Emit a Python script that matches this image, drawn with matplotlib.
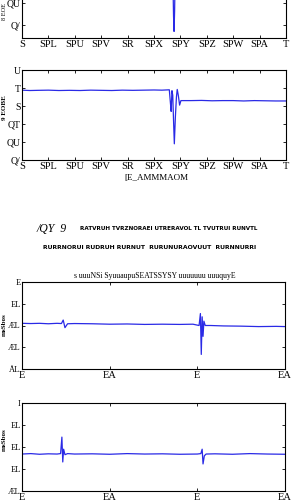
import numpy as np
import matplotlib.pyplot as plt

# top panel (only its lower part is visible on the page)
x1 = [0.0, 0.1, 0.2, 0.3, 0.4, 0.5, 0.56, 0.570, 0.572, 0.574, 0.576, 0.578, 0.580, 0.583, 0.6, 0.7, 0.8, 0.9, 1.0]
y1 = [0.0, 0.0, 0.0, 0.0, 0.0, 0.0, 0.0, 0.0, -1.2, -2.6, -3.3, -2.4, -0.8, 0.0, 0.0, 0.0, 0.0, 0.0, 0.0]

# second panel
x2 = [0.0, 0.03, 0.06, 0.1, 0.14, 0.18, 0.22, 0.26, 0.3, 0.34, 0.38, 0.42, 0.46, 0.5, 0.53, 0.558,
      0.562, 0.565, 0.568, 0.571, 0.574, 0.577, 0.581, 0.585, 0.588, 0.592, 0.597, 0.602,
      0.64, 0.68, 0.72, 0.76, 0.8, 0.84, 0.88, 0.92, 0.96, 1.0]
y2 = [0.88, 0.86, 0.87, 0.88, 0.86, 0.87, 0.86, 0.88, 0.87, 0.86, 0.88, 0.87, 0.88, 0.89, 0.88, 0.9,
      0.2, -0.3, 0.85, 0.6, -0.8, -2.1, -0.6, 0.5, 0.92, 0.6, 0.05, 0.3,
      0.3, 0.31, 0.29, 0.3, 0.3, 0.28, 0.3, 0.29, 0.28, 0.28]

# third panel
x3 = [0.0, 0.1, 0.2, 0.3, 0.4, 0.45, 0.47, 0.49, 0.52, 0.6, 0.8, 1.0, 1.2, 1.4, 1.6, 1.8, 1.95, 2.02,
      2.035, 2.045, 2.055, 2.065, 2.075, 2.09, 2.15, 2.3, 2.5, 2.7, 2.9, 3.0]
y3 = [0.1, 0.09, 0.1, 0.08, 0.1, 0.09, 0.25, -0.1, 0.08, 0.09, 0.08, 0.06, 0.07, 0.05, 0.06, 0.05, 0.06, 0.0,
      0.55, -1.33, 0.4, -0.5, 0.2, 0.0, 0.0, -0.02, -0.03, -0.05, -0.04, -0.05]

# fourth panel
x4 = [0.0, 0.1, 0.2, 0.3, 0.4, 0.44, 0.455, 0.465, 0.475, 0.49, 0.52, 0.6, 0.8, 1.0, 1.2, 1.4, 1.6,
      1.8, 2.0, 2.04, 2.055, 2.065, 2.08, 2.1, 2.2, 2.4, 2.6, 2.8, 3.0]
y4 = [-0.32, -0.3, -0.33, -0.31, -0.32, -0.3, 0.45, -0.68, -0.1, -0.35, -0.3, -0.32, -0.31, -0.33, -0.3, -0.32, -0.31,
      -0.33, -0.32, -0.3, -0.1, -0.77, -0.4, -0.32, -0.31, -0.33, -0.3, -0.32, -0.33]

ticks_x_top = ["S", "SPL", "SPU", "SPV", "SR", "SPX", "SPY", "SPZ", "SPW", "SPA", "T"]
ticks_y1 = ["QU", "Q/"]
ticks_y2 = ["Q/", "QU", "QT", "S", "T", "U"]
ticks_x_bot = ["E", "EA", "E", "EA"]
ticks_y3 = ["ÅL", "ÆL", "ÆL", "EL", "E"]
ticks_y4 = ["ÆL", "EL", "EL", "EL", "I"]

blue = "#2a2ae6"
serif = "Liberation Serif"

fig = plt.figure(figsize=(2.92, 5.03), dpi=100)


def style(ax, ysize=7.5):
    ax.tick_params(direction="in", top=True, right=True, length=2.5, width=0.6,
                   labelsize=7.5, pad=1.5)
    ax.tick_params(axis="y", labelsize=ysize, pad=1)
    for lab in ax.get_xticklabels() + ax.get_yticklabels():
        lab.set_family(serif)
    for s in ax.spines.values():
        s.set_linewidth(0.8)


W = 292.0
H = 503.0

ax1 = fig.add_axes([22 / W, (H - 38) / H, 264 / W, 90 / H])
ax1.plot(x1, y1, color=blue, lw=0.9)
ax1.set_xlim(0, 1)
ax1.set_ylim(-3.6, 0.5)
ax1.set_xticks(np.linspace(0, 1, 11), ticks_x_top)
ax1.set_yticks([-2, -3], ticks_y1)
style(ax1, 7)

ax2 = fig.add_axes([22 / W, (H - 160) / H, 264 / W, 90 / H])
ax2.plot(x2, y2, color=blue, lw=0.9)
ax2.set_xlim(0, 1)
ax2.set_ylim(-3, 2)
ax2.set_xticks(np.linspace(0, 1, 11), ticks_x_top)
ax2.set_yticks([-3, -2, -1, 0, 1, 2], ticks_y2)
style(ax2, 7)

ax3 = fig.add_axes([22 / W, (H - 369) / H, 263 / W, 87 / H])
ax3.plot(x3, y3, color=blue, lw=0.9)
ax3.set_xlim(0, 3)
ax3.set_ylim(-2, 2)
ax3.set_xticks([0, 1, 2, 3], ticks_x_bot)
ax3.set_yticks([-2, -1, 0, 1, 2], ticks_y3)
style(ax3, 6)

ax4 = fig.add_axes([22 / W, (H - 491) / H, 263 / W, 88 / H])
ax4.plot(x4, y4, color=blue, lw=0.9)
ax4.set_xlim(0, 3)
ax4.set_ylim(-2, 2)
ax4.set_xticks([0, 1, 2, 3], ticks_x_bot)
ax4.set_yticks([-2, -1, 0, 1, 2], ticks_y4)
style(ax4, 6)

# axis labels (garbled glyphs as printed)
fig.text(4 / W, (H - 12) / H, "8 EOE", rotation=90, fontsize=4.5, family=serif,
         ha="center", va="center")
fig.text(5 / W, (H - 108) / H, "9 EOBE", rotation=90, fontsize=5, family=serif,
         ha="center", va="center", fontweight="bold")
fig.text(156 / W, (H - 178) / H, "[E_AMMMAOM", fontsize=6.5, family=serif,
         ha="center", va="center")
fig.text(4 / W, (H - 325) / H, "msSbos", rotation=90, fontsize=5, family=serif,
         ha="center", va="center", fontweight="bold")
fig.text(4 / W, (H - 440) / H, "msSbos", rotation=90, fontsize=5, family=serif,
         ha="center", va="center", fontweight="bold")

# caption
fig.text(37 / W, (H - 229) / H, "/QY  9", fontsize=8.5, family=serif, style="italic",
         ha="left", va="center")
fig.text(80 / W, (H - 228) / H, "RATVRUH TVRZNORAEI UTRERAVOL TL TVUTRUI RUNVTL",
         fontsize=4.1, fontweight="bold", family="DejaVu Sans",
         ha="left", va="center")
fig.text(150 / W, (H - 247) / H, "RURRNORUI RUDRUH RURNUT  RURUNURAOVUUT  RURNNURRI",
         fontsize=4.45, fontweight="bold", family="DejaVu Sans",
         ha="center", va="center")
fig.text(155 / W, (H - 276) / H, "s uuuNSi SyuuaupuSEATSSYSY uuuuuuu uuuquyE",
         fontsize=5.5, family=serif, ha="center", va="center")

fig.savefig("out.png", dpi=100, facecolor="white")
